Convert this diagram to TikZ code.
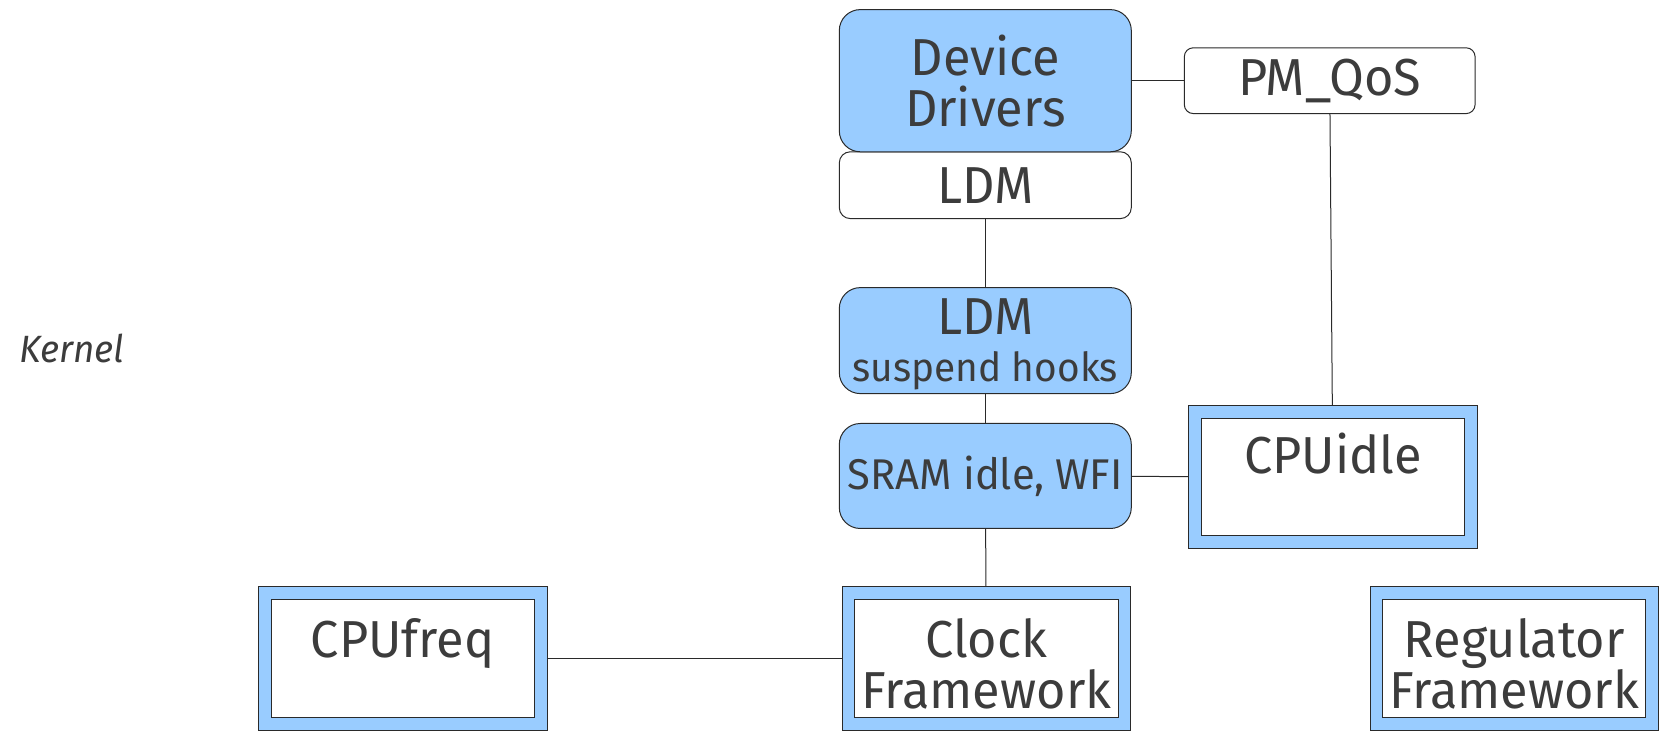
\documentclass[tikz,border=0pt]{standalone}
\usepackage{fontspec}
\setmainfont[FakeStretch=0.97]{Fira Sans}
\definecolor{boxblue}{HTML}{99CCFF}
\definecolor{ink}{HTML}{3C3C3C}
\definecolor{edge}{HTML}{2A2A2A}

\begin{document}
\begin{tikzpicture}[x=0.5pt,y=-0.5pt,
  every node/.style={text=ink},
  lbl/.style={font=\fontsize{26}{25.5}\selectfont, align=center},
  roundbox/.style={draw=edge, line width=0.5pt, rounded corners=10.5pt,
    inner sep=0pt, minimum width=146pt, lbl},
  bluebox/.style={roundbox, fill=boxblue},
  whitebox/.style={roundbox, fill=white, rounded corners=5.5pt},
  fwbox/.style={draw=edge, line width=0.5pt, fill=boxblue,
    minimum width=144.3pt, minimum height=71.6pt, inner sep=0pt,
    path picture={\draw[edge, line width=0.5pt, fill=white]
      ([shift={(6.35pt,-6.35pt)}]path picture bounding box.north west) rectangle
      ([shift={(-6.35pt,6.35pt)}]path picture bounding box.south east);}},
  fwtext/.style={lbl, anchor=base},
  link/.style={draw=edge, line width=0.5pt}
]
\useasboundingbox (0,0) rectangle (1664,731);

% left-hand layer label
\node[font=\fontsize{19}{22}\selectfont\itshape] (kernel) at (71.6,348) {Kernel};

% driver stack
\node[whitebox, minimum height=33.4pt] (ldm) at (985.3,185.2) {LDM};
\node[bluebox, minimum height=71.1pt] (dd) at (985.3,80.7) {Device\\Drivers};
\node[whitebox, minimum width=145.4pt, minimum height=32.9pt, rounded corners=4.5pt] (pmqos) at (1329.7,80.7) {PM\_QoS};
\node[bluebox, minimum height=53pt] (susp) at (985.3,340.6) {};
\node[fwtext] (susptop) at ([yshift=-23.85pt]susp.north) {LDM};
\node[fwtext, font=\fontsize{20}{23}\selectfont] (suspbot) at ([yshift=-47.2pt]susp.north) {suspend hooks};
\node[bluebox, minimum height=52.5pt, font=\fontsize{21.5}{24}\selectfont] (sram) at (985.3,476) {SRAM idle, WFI};

% frameworks
\node[fwbox] (cpuidle) at (1332.9,477) {};
\node[fwbox] (cpufreq) at (402.7,658.5) {};
\node[fwbox] (clock) at (986.4,658.5) {};
\node[fwbox] (regulator) at (1514.3,658.5) {};

\node[fwtext] (cpuidletxt) at ([yshift=-34.5pt]cpuidle.north) {CPUidle};
\node[fwtext] (cpufreqtxt) at ([yshift=-35.5pt]cpufreq.north) {CPUfreq};
\node[fwtext] (clocktxt) at ([yshift=-61pt]clock.north) {Clock\\Framework};
\node[fwtext] (regtxt) at ([yshift=-61pt]regulator.north) {Regulator\\Framework};

% connections
\draw[link] (dd) -- (pmqos);
\draw[link] (ldm) -- (susp);
\draw[link] (susp) -- (sram);
\draw[link] (sram) -- (clock);
\draw[link] (sram) -- (cpuidle);
\draw[link] (pmqos) -- (cpuidle);
\draw[link] (cpufreq) -- (clock);
\end{tikzpicture}
\end{document}
